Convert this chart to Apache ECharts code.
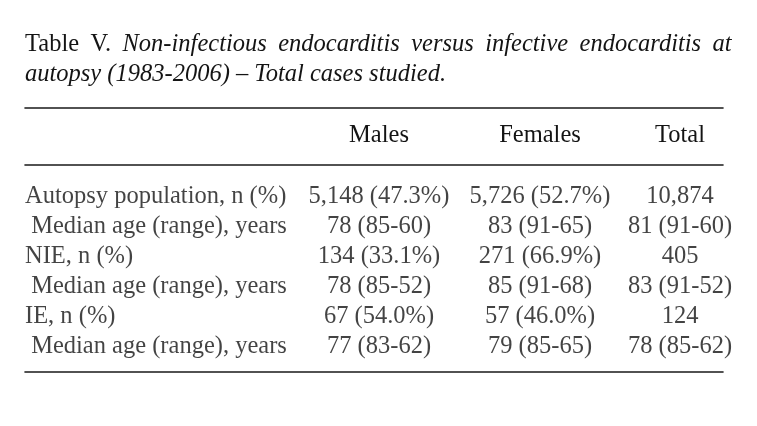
<!DOCTYPE html>
<html><head><meta charset="utf-8">
<script src="https://cdn.jsdelivr.net/npm/echarts@6/dist/echarts.min.js"></script>
<style>html,body{margin:0;padding:0;background:#fff}#c{width:757px;height:426px}</style>
</head><body><div id="c"></div>
<script>
const titleLead = 'Table V.';
const titleLine1 = 'Non-infectious endocarditis versus infective endocarditis at';
const titleLine2 = 'autopsy (1983-2006) \u2013 Total cases studied.';
const columns = ['Males', 'Females', 'Total'];
const rowLabels = ['Autopsy population, n (%)', ' Median age (range), years', 'NIE, n (%)', ' Median age (range), years', 'IE, n (%)', ' Median age (range), years'];
const males = ['5,148 (47.3%)', '78 (85-60)', '134 (33.1%)', '78 (85-52)', '67 (54.0%)', '77 (83-62)'];
const females = ['5,726 (52.7%)', '83 (91-65)', '271 (66.9%)', '85 (91-68)', '57 (46.0%)', '79 (85-65)'];
const total = ['10,874', '81 (91-60)', '405', '83 (91-52)', '124', '78 (85-62)'];

const FONT = '"Liberation Serif", "DejaVu Serif", serif';
const FS = 24.5;
const INK = '#141414';
const RULE = { show: true, onZero: false, lineStyle: { color: '#1a1a1a', width: 1.6 } };
const colValues = [males, females, total];
const colLeft = [309, 470, 610];
const JUSTIFY_GAP = 6.4;

const chart = echarts.init(document.getElementById('c'), null, { renderer: 'canvas' });

const grids = [
  { left: 25, right: 34, top: 108, height: 57 },
  { left: 25, right: 34, top: 165, bottom: 54 },
  { left: 24, width: 2, top: 182, height: 180 }
];
colLeft.forEach(l => grids.push({ left: l, width: 140, top: 182, height: 180 }));

const hidden = { axisLabel: { show: false }, axisTick: { show: false }, splitLine: { show: false } };
const xAxes = [
  Object.assign({ gridIndex: 0, type: 'value', position: 'top', axisLine: RULE }, hidden),
  Object.assign({ gridIndex: 0, type: 'value', position: 'bottom', axisLine: RULE }, hidden),
  Object.assign({ gridIndex: 1, type: 'value', position: 'bottom', axisLine: RULE }, hidden),
  { gridIndex: 2, type: 'category', data: ['label'], show: false }
];
columns.forEach((c, k) => xAxes.push({
  gridIndex: 3 + k, type: 'category', data: [c], position: 'top',
  axisLine: { show: false }, axisTick: { show: false }, splitLine: { show: false },
  axisLabel: { show: true, margin: 46, verticalAlign: 'middle', fontFamily: FONT, fontSize: FS, color: INK }
}));
const yAxes = [
  { gridIndex: 0, type: 'value', show: false },
  { gridIndex: 1, type: 'value', show: false }
];
for (let g = 2; g < 6; g++) yAxes.push({ gridIndex: g, type: 'category', data: rowLabels.map((_, i) => i), inverse: true, show: false });

const cellLabel = (align, texts) => ({
  show: true, position: 'inside', align: align, verticalAlign: 'middle',
  fontFamily: FONT, fontSize: FS, color: INK,
  formatter: p => texts[p.data[1]]
});

const series = [{
  type: 'scatter', xAxisIndex: 3, yAxisIndex: 2, symbolSize: 0,
  data: rowLabels.map((_, i) => [0, i]), label: cellLabel('left', rowLabels)
}];
colValues.forEach((vals, k) => series.push({
  type: 'scatter', xAxisIndex: 4 + k, yAxisIndex: 3 + k, symbolSize: 0,
  data: vals.map((_, i) => [0, i]), label: cellLabel('center', vals)
}));

// justified first title line: lead words upright, rest italic, extra gap after each word
const leadWords = titleLead.split(' ');
const italWords = titleLine1.split(' ');
const allWords = leadWords.map(w => ['rj', w]).concat(italWords.map(w => ['ij', w]));
const line1 = allWords.map(([s, w], i) => '{' + (i < allWords.length - 1 ? s : s.charAt(0)) + '|' + w + '}').join(' ');
const titleText = line1 + '\n{i|' + titleLine2 + '}';

const baseRich = { fontFamily: FONT, fontSize: FS, lineHeight: 30, fontWeight: 'normal', color: INK };
chart.setOption({
  backgroundColor: '#ffffff',
  animation: false,
  title: {
    left: 25, top: 30, padding: 0,
    text: titleText,
    textStyle: {
      fontWeight: 'normal',
      rich: {
        r: Object.assign({}, baseRich),
        i: Object.assign({ fontStyle: 'italic' }, baseRich),
        rj: Object.assign({ padding: [0, JUSTIFY_GAP, 0, 0] }, baseRich),
        ij: Object.assign({ fontStyle: 'italic', padding: [0, JUSTIFY_GAP, 0, 0] }, baseRich)
      }
    }
  },
  grid: grids, xAxis: xAxes, yAxis: yAxes, series: series
});
</script></body></html>
